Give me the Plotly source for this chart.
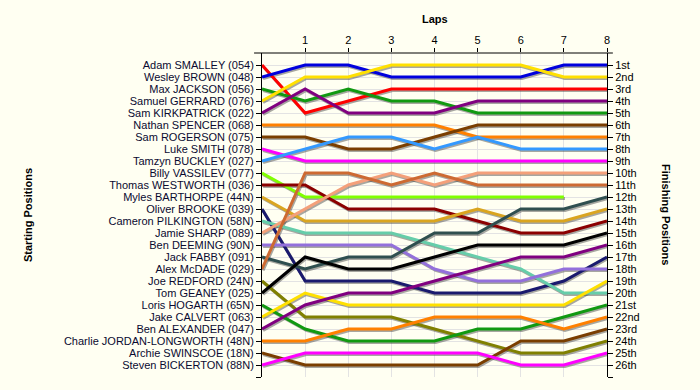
import plotly.graph_objects as go

laps = [0, 1, 2, 3, 4, 5, 6, 7, 8]

drivers = [
    "Adam SMALLEY (054)", "Wesley BROWN (048)", "Max JACKSON (056)", "Samuel GERRARD (076)",
    "Sam KIRKPATRICK (022)", "Nathan SPENCER (068)", "Sam ROGERSON (075)", "Luke SMITH (078)",
    "Tamzyn BUCKLEY (027)", "Billy VASSILEV (077)", "Thomas WESTWORTH (036)", "Myles BARTHORPE (44N)",
    "Oliver BROOKE (039)", "Cameron PILKINGTON (58N)", "Jamie SHARP (089)", "Ben DEEMING (90N)",
    "Jack FABBY (091)", "Alex McDADE (029)", "Joe REDFORD (24N)", "Tom GEANEY (025)",
    "Loris HOGARTH (65N)", "Jake CALVERT (063)", "Ben ALEXANDER (047)", "Charlie JORDAN-LONGWORTH (48N)",
    "Archie SWINSCOE (18N)", "Steven BICKERTON (88N)",
]

positions = [
    [1, 5, 4, 3, 3, 3, 3, 3, 3],
    [2, 1, 1, 2, 2, 2, 2, 1, 1],
    [3, 4, 3, 4, 4, 5, 5, 5, 5],
    [4, 2, 2, 1, 1, 1, 1, 2, 2],
    [5, 3, 5, 5, 5, 4, 4, 4, 4],
    [6, 6, 6, 6, 6, 7, 7, 7, 7],
    [7, 7, 8, 8, 7, 6, 6, 6, 6],
    [8, 9, 9, 9, 9, 9, 9, 9, 9],
    [9, 8, 7, 7, 8, 7, 8, 8, 8],
    [10, 12, 12, 12, 12, 12, 12, 12, None],
    [11, 11, 13, 13, 13, 14, 15, 15, 14],
    [12, 14, 14, 14, 14, 13, 14, 14, 13],
    [13, 19, 19, 19, 20, 20, 20, 19, 17],
    [14, 15, 15, 15, 16, 17, 18, 20, 20],
    [15, 13, 11, 10, 11, 10, 10, 10, 10],
    [16, 16, 16, 16, 18, 19, 19, 18, 18],
    [17, 18, 17, 17, 15, 15, 13, 13, 12],
    [18, 10, 10, 11, 10, 11, 11, 11, 11],
    [19, 22, 22, 22, 23, 24, 25, 25, 24],
    [20, 17, 18, 18, 17, 16, 16, 16, 15],
    [21, 23, 24, 24, 24, 23, 23, 22, 21],
    [22, 20, 21, 21, 21, 21, 21, 21, 19],
    [23, 21, 20, 20, 19, 18, 17, 17, 16],
    [24, 24, 23, 23, 22, 22, 22, 23, 22],
    [25, 26, 26, 26, 26, 26, 24, 24, 23],
    [26, 25, 25, 25, 25, 25, 26, 26, 25],
]

colors = [
    "#FF0000", "#0000DD", "#119911", "#FFE000", "#800080", "#FF8000", "#7A3E00", "#FF00FF",
    "#3399FF", "#80FF00", "#8B0000", "#DAA520", "#1A1A6E", "#66CDAA", "#F4A07A", "#9370DB",
    "#2F4F4F", "#CD6A32", "#808000", "#000000", "#119911", "#FFE000", "#800080", "#FF8000",
    "#7A3E00", "#FF00FF",
]

finish_labels = [
    "1st", "2nd", "3rd", "4th", "5th", "6th", "7th", "8th", "9th", "10th", "11th", "12th", "13th",
    "14th", "15th", "16th", "17th", "18th", "19th", "20th", "21st", "22nd", "23rd", "24th", "25th", "26th",
]

lap_labels = ["1", "2", "3", "4", "5", "6", "7", "8"]

BG = "#FFFFF2"
FONT = "Arial, Liberation Sans, sans-serif"

fig = go.Figure()

# shadows
for pos in positions:
    fig.add_trace(go.Scatter(
        x=[l + 0.025 for l in laps],
        y=[(p + 0.12) if p is not None else None for p in pos],
        mode="lines", line=dict(color="rgba(60,60,60,0.45)", width=3),
        hoverinfo="skip", showlegend=False))

for name, pos, col in zip(drivers, positions, colors):
    fig.add_trace(go.Scatter(
        x=laps, y=pos, mode="lines", name=name,
        line=dict(color=col, width=3), showlegend=False))

# invisible trace for right axis
fig.add_trace(go.Scatter(x=[0], y=[1], yaxis="y2", mode="markers",
                         marker=dict(opacity=0), hoverinfo="skip", showlegend=False))

n = len(drivers)
ticks = list(range(1, n + 2))

fig.update_layout(
    width=700, height=390,
    margin=dict(l=262, r=93, t=53, b=13),
    paper_bgcolor=BG, plot_bgcolor=BG,
    font=dict(family=FONT, size=11, color="#000000"),
    xaxis=dict(
        side="top", range=[0, 8], tickvals=list(range(1, 9)), ticktext=lap_labels,
        ticks="outside", ticklen=4, tickcolor="#000", showline=False,
        showgrid=True, gridcolor="#E3E3E3", gridwidth=1, zeroline=False,
        tickfont=dict(size=11, color="#000"),
    ),
    yaxis=dict(
        range=[n + 1, 0], tickvals=ticks, ticktext=drivers + [""],
        ticks="outside", ticklen=5, tickcolor="#000", showline=True, linecolor="#000",
        linewidth=1, showgrid=True, gridcolor="#E3E3E3", gridwidth=1, zeroline=False,
        tickfont=dict(size=11, color="#0A0A30"),
    ),
    yaxis2=dict(
        overlaying="y", side="right", range=[n + 1, 0], tickvals=ticks,
        ticktext=finish_labels + [""], ticks="outside", ticklen=5, tickcolor="#000",
        showline=True, linecolor="#000", linewidth=1, showgrid=False, zeroline=False,
        tickfont=dict(size=11, color="#000"),
    ),
    shapes=[dict(type="line", xref="paper", yref="paper", x0=-0.023, x1=1.017,
                 y0=1, y1=1, line=dict(color="#000", width=1))],
    annotations=[
        dict(text="<b>Laps</b>", xref="paper", yref="paper", x=0.5, y=1.105,
             xanchor="center", yanchor="middle",
             showarrow=False, font=dict(size=11, color="#000")),
        dict(text="<b>Starting Positions</b>", xref="paper", yref="paper", x=-0.678, y=0.5,
             xanchor="center", yanchor="middle",
             textangle=-90, showarrow=False, font=dict(size=11, color="#000")),
        dict(text="<b>Finishing Positions</b>", xref="paper", yref="paper", x=1.171, y=0.5,
             xanchor="center", yanchor="middle",
             textangle=90, showarrow=False, font=dict(size=11, color="#000")),
    ],
)

fig.write_html(
    "out.html",
    config={"displayModeBar": False},
    post_script="document.body.style.margin='0px';document.body.style.background='" + BG + "';",
)
